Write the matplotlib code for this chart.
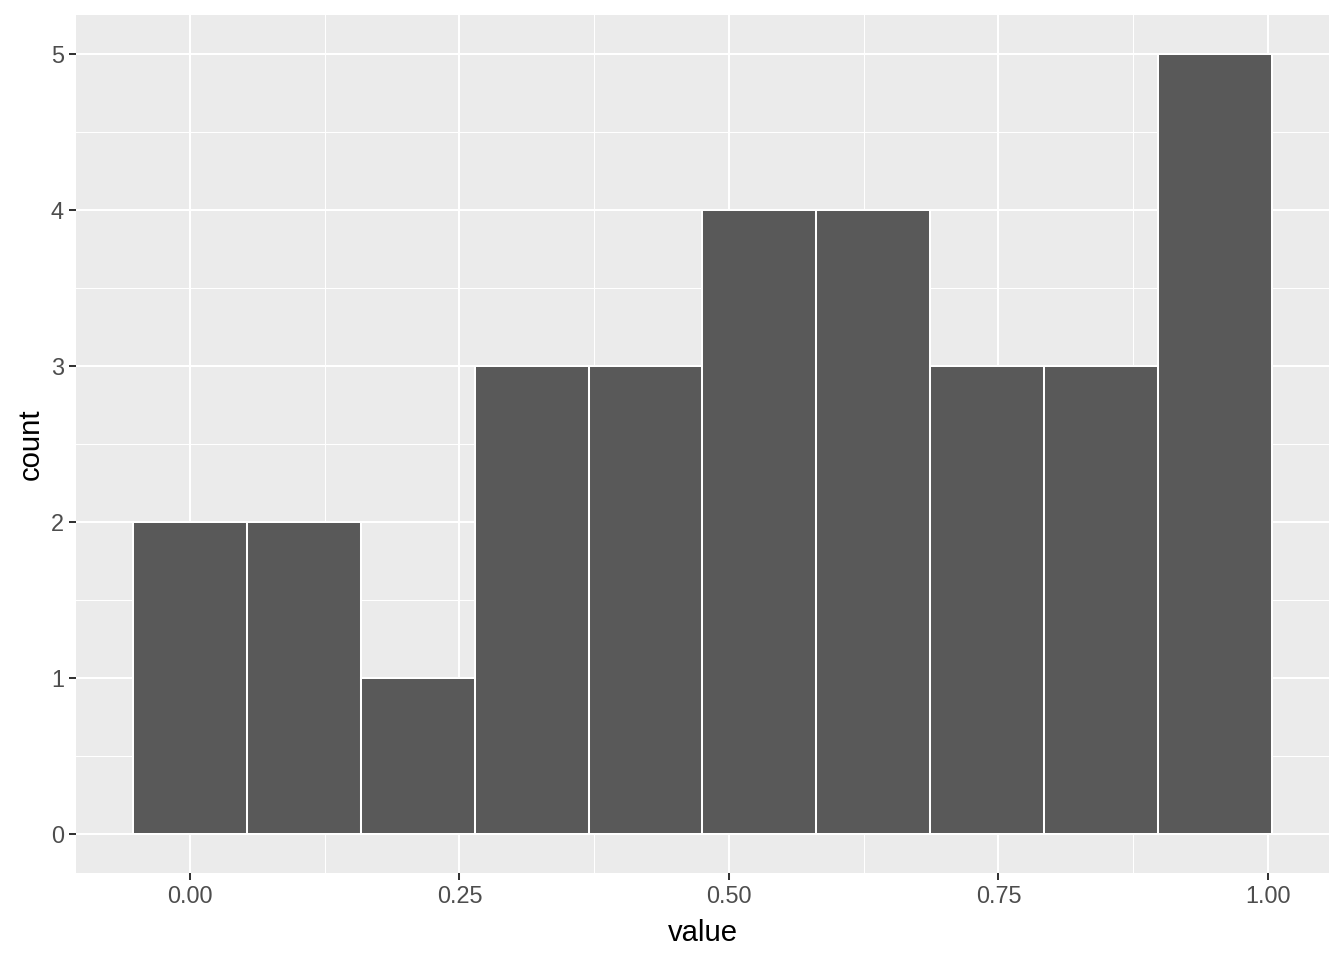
import matplotlib
matplotlib.use("Agg")
import matplotlib.pyplot as plt
from matplotlib.ticker import FixedLocator

bin_centers = [0.000, 0.1057, 0.2113, 0.3170, 0.4227, 0.5283, 0.6340, 0.7397, 0.8453, 0.9510]
counts = [2, 2, 1, 3, 3, 4, 4, 3, 3, 5]
bin_width = 0.1057
x_ticks = [0.00, 0.25, 0.50, 0.75, 1.00]
x_tick_labels = ["0.00", "0.25", "0.50", "0.75", "1.00"]
y_ticks = [0, 1, 2, 3, 4, 5]

plt.rcParams['font.family'] = ['Liberation Sans', 'DejaVu Sans']

fig = plt.figure(figsize=(13.44, 9.6), dpi=100)
W, H = 1344, 960
left, right, top, bottom = 76, 1329, 14.5, 873
ax = fig.add_axes([left / W, 1 - bottom / H, (right - left) / W, (bottom - top) / H])
ax.set_facecolor('#EBEBEB')

lo = bin_centers[0] - bin_width / 2
hi = bin_centers[-1] + bin_width / 2
xr = hi - lo
ax.set_xlim(lo - 0.05 * xr, hi + 0.05 * xr)
ymax = max(counts)
ax.set_ylim(-0.05 * ymax, ymax * 1.05)

ax.xaxis.set_major_locator(FixedLocator(x_ticks))
ax.set_xticklabels(x_tick_labels)
ax.yaxis.set_major_locator(FixedLocator(y_ticks))
xminor = [(a + b) / 2 for a, b in zip(x_ticks[:-1], x_ticks[1:])]
yminor = [(a + b) / 2 for a, b in zip(y_ticks[:-1], y_ticks[1:])]
ax.xaxis.set_minor_locator(FixedLocator(xminor))
ax.yaxis.set_minor_locator(FixedLocator(yminor))

ax.grid(which='major', color='white', linewidth=1.45)
ax.grid(which='minor', color='white', linewidth=0.72)
ax.set_axisbelow(True)

ax.bar(bin_centers, counts, width=bin_width, color='#595959', edgecolor='white',
       linewidth=1.45, zorder=2)

for s in ax.spines.values():
    s.set_visible(False)

ax.tick_params(which='major', length=5.3, width=1.45, color='#333333',
               labelsize=16.9, labelcolor='#4D4D4D', pad=3.5)
ax.tick_params(which='minor', length=0)

ax.set_xlabel('value', fontsize=21.1, color='black', labelpad=8)
ax.set_ylabel('count', fontsize=21.1, color='black', labelpad=4)

fig.savefig('out.png', dpi=100, facecolor='white')
